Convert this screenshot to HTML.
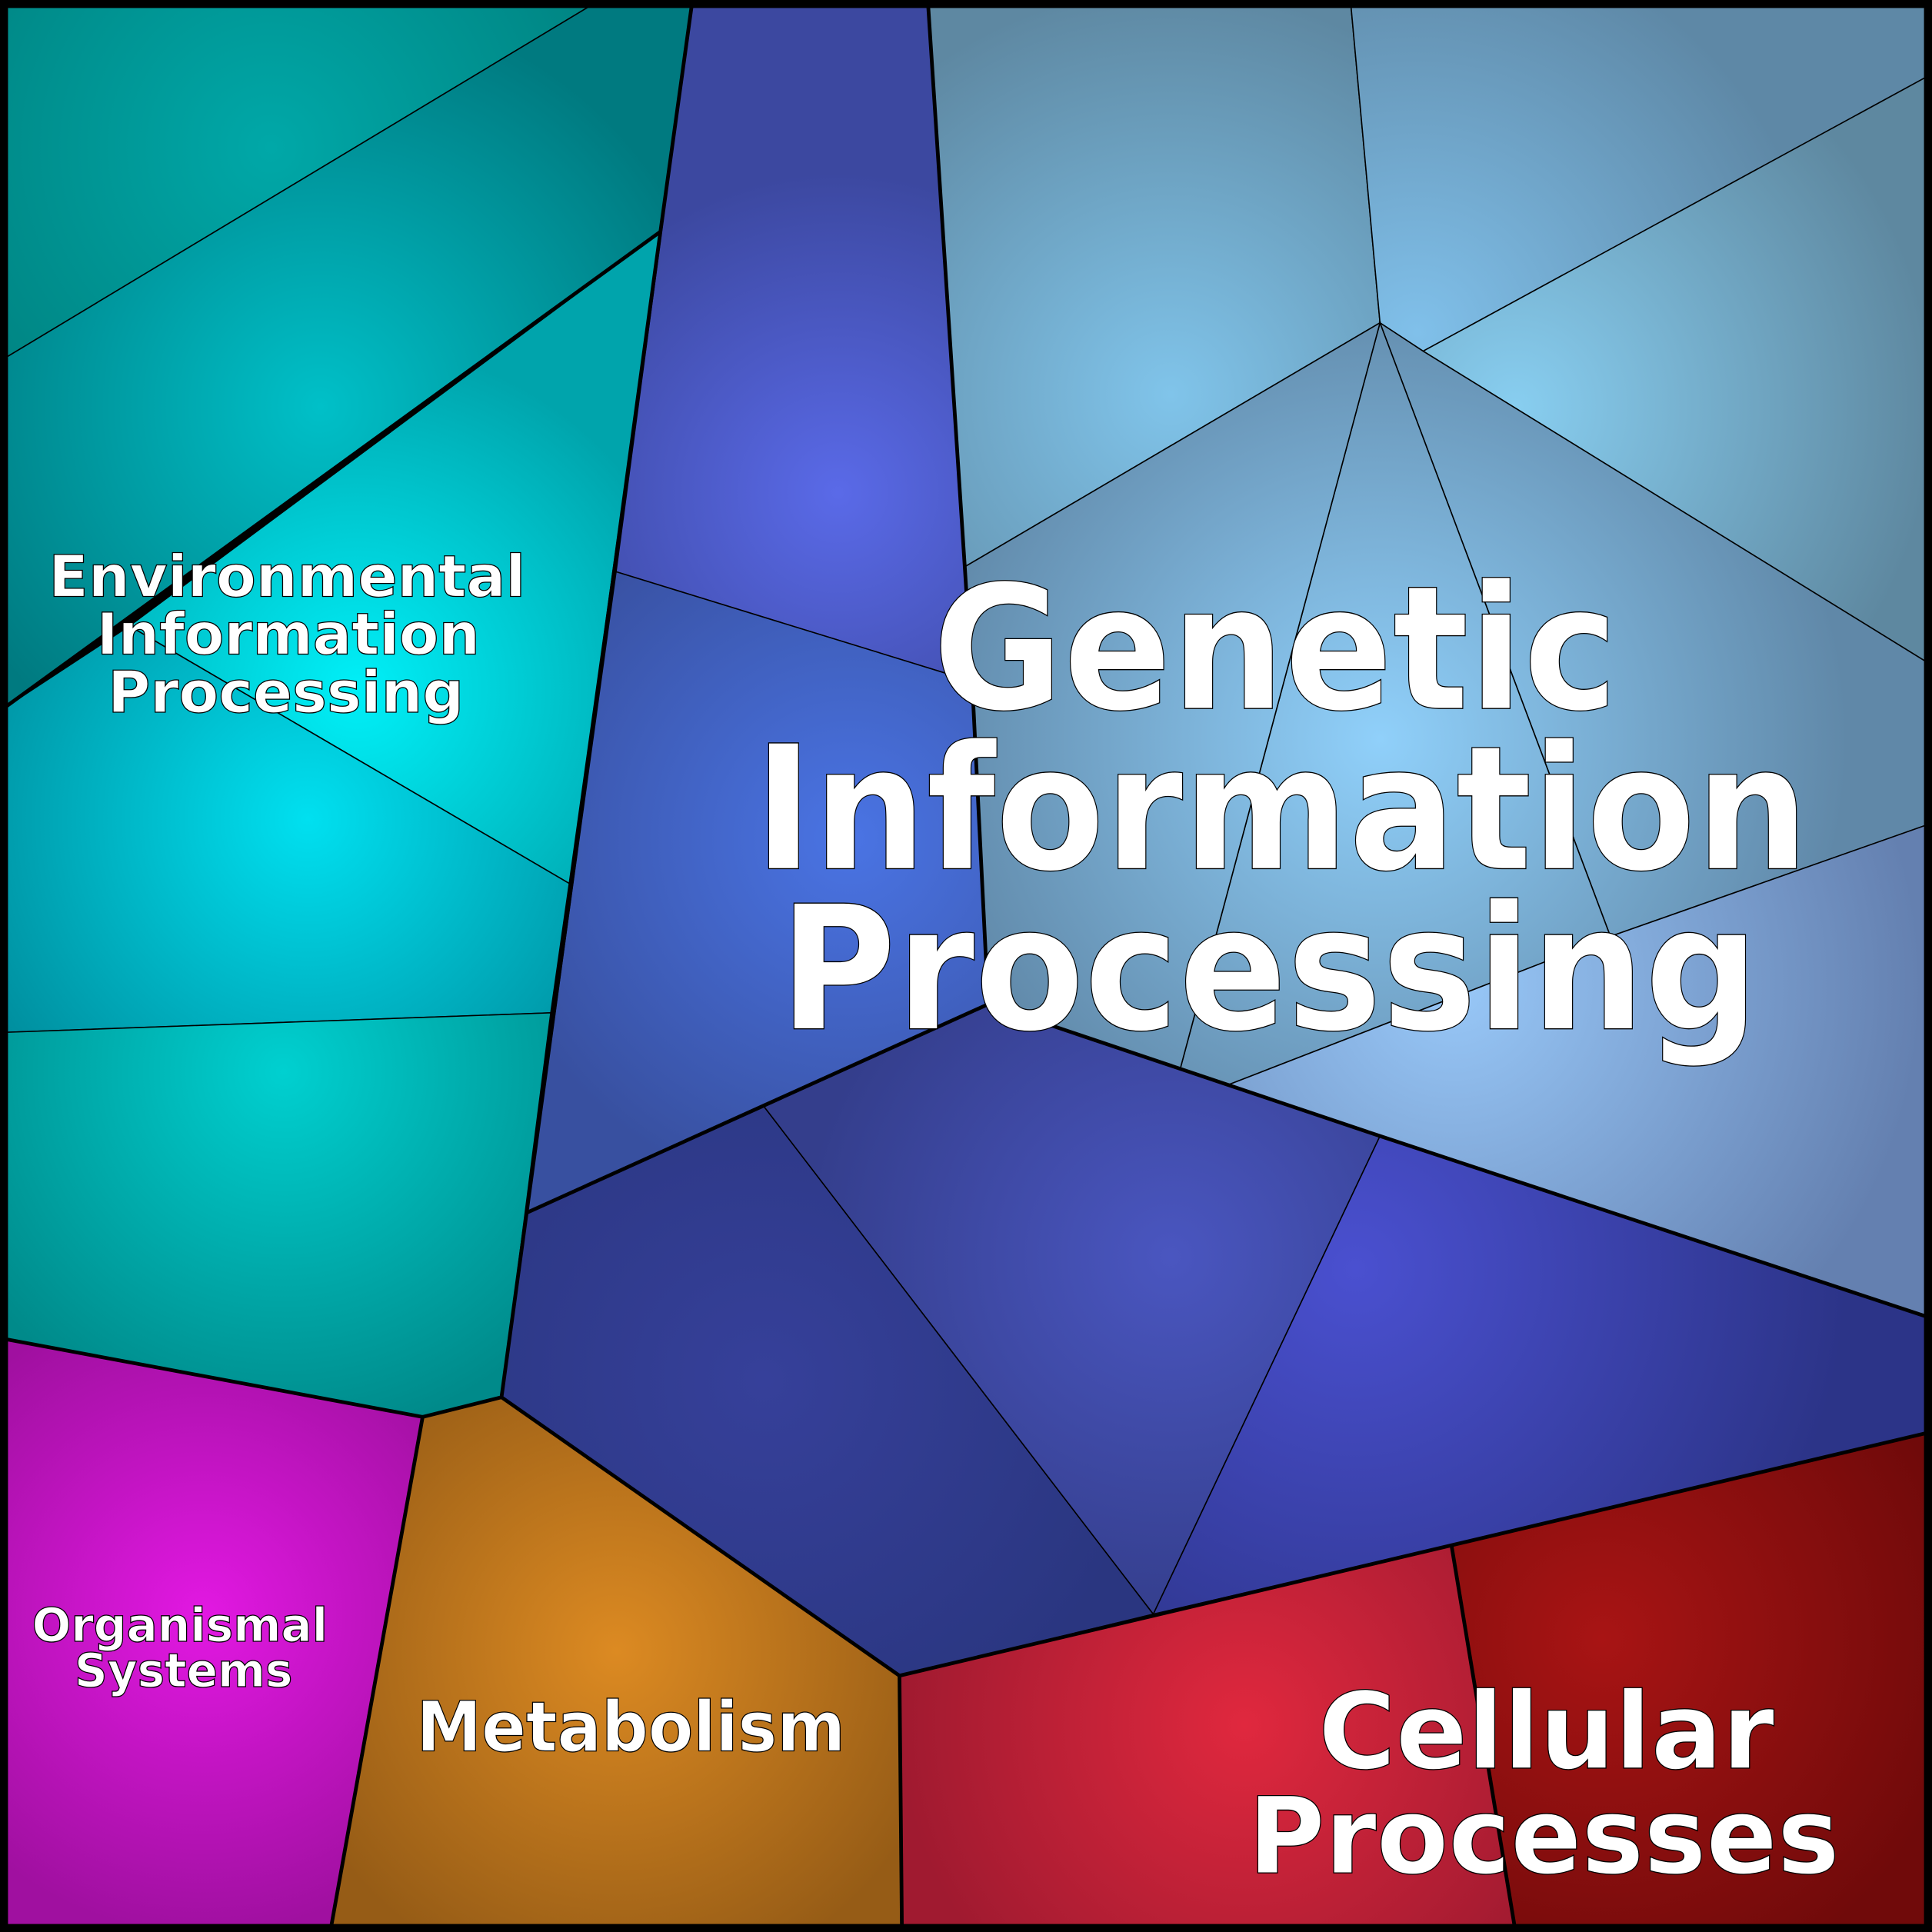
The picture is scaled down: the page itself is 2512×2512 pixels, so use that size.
<!DOCTYPE html>
<html><head><meta charset="utf-8"><style>
html,body{margin:0;padding:0;background:#000}
svg{display:block}
text{font-family:"DejaVu Sans","Liberation Sans",sans-serif;font-weight:bold;fill:#fff;stroke:#000;stroke-width:0.8;text-anchor:middle}
</style></head><body>
<svg width="2512" height="2512" viewBox="0 0 1568 1568" xmlns="http://www.w3.org/2000/svg">
<defs>
<radialGradient id="tA" gradientUnits="userSpaceOnUse" cx="220" cy="120" r="320"><stop offset="0" stop-color="#00a8a8"/><stop offset="1" stop-color="#00807e"/></radialGradient>
<radialGradient id="tB" gradientUnits="userSpaceOnUse" cx="260" cy="330" r="330"><stop offset="0" stop-color="#00c0c8"/><stop offset="1" stop-color="#007a80"/></radialGradient>
<radialGradient id="tC" gradientUnits="userSpaceOnUse" cx="290" cy="560" r="280"><stop offset="0" stop-color="#00f0f8"/><stop offset="1" stop-color="#00a4ac"/></radialGradient>
<radialGradient id="tD" gradientUnits="userSpaceOnUse" cx="250" cy="665" r="300"><stop offset="0" stop-color="#00e0f0"/><stop offset="1" stop-color="#008e9e"/></radialGradient>
<radialGradient id="tE" gradientUnits="userSpaceOnUse" cx="230" cy="870" r="300"><stop offset="0" stop-color="#00d0d0"/><stop offset="1" stop-color="#008a8a"/></radialGradient>
<radialGradient id="b1" gradientUnits="userSpaceOnUse" cx="680" cy="400" r="260"><stop offset="0" stop-color="#5a6ae8"/><stop offset="1" stop-color="#3c48a0"/></radialGradient>
<radialGradient id="b2" gradientUnits="userSpaceOnUse" cx="690" cy="680" r="300"><stop offset="0" stop-color="#4a74e4"/><stop offset="1" stop-color="#3850a0"/></radialGradient>
<radialGradient id="b3" gradientUnits="userSpaceOnUse" cx="620" cy="1120" r="320"><stop offset="0" stop-color="#36409a"/><stop offset="1" stop-color="#2a3680"/></radialGradient>
<radialGradient id="b4" gradientUnits="userSpaceOnUse" cx="950" cy="1020" r="300"><stop offset="0" stop-color="#4a56c0"/><stop offset="1" stop-color="#343e8c"/></radialGradient>
<radialGradient id="b5" gradientUnits="userSpaceOnUse" cx="1100" cy="1030" r="400"><stop offset="0" stop-color="#4a50d0"/><stop offset="1" stop-color="#2c3488"/></radialGradient>
<radialGradient id="l1" gradientUnits="userSpaceOnUse" cx="950" cy="320" r="330"><stop offset="0" stop-color="#80c4ea"/><stop offset="1" stop-color="#5e88a2"/></radialGradient>
<radialGradient id="l2" gradientUnits="userSpaceOnUse" cx="1150" cy="270" r="330"><stop offset="0" stop-color="#80c0ea"/><stop offset="1" stop-color="#5e88a6"/></radialGradient>
<radialGradient id="l3" gradientUnits="userSpaceOnUse" cx="1230" cy="330" r="340"><stop offset="0" stop-color="#88cef0"/><stop offset="1" stop-color="#5e88a0"/></radialGradient>
<radialGradient id="l4" gradientUnits="userSpaceOnUse" cx="1120" cy="600" r="380"><stop offset="0" stop-color="#90d0fa"/><stop offset="1" stop-color="#6088a8"/></radialGradient>
<radialGradient id="l5" gradientUnits="userSpaceOnUse" cx="1180" cy="800" r="380"><stop offset="0" stop-color="#98c8f8"/><stop offset="1" stop-color="#6480b0"/></radialGradient>
<radialGradient id="r1" gradientUnits="userSpaceOnUse" cx="1010" cy="1400" r="280"><stop offset="0" stop-color="#e0283e"/><stop offset="1" stop-color="#a01a30"/></radialGradient>
<radialGradient id="r2" gradientUnits="userSpaceOnUse" cx="1300" cy="1330" r="300"><stop offset="0" stop-color="#a81414"/><stop offset="1" stop-color="#700a0a"/></radialGradient>
<radialGradient id="o1" gradientUnits="userSpaceOnUse" cx="500" cy="1340" r="280"><stop offset="0" stop-color="#dc8a22"/><stop offset="1" stop-color="#965c16"/></radialGradient>
<radialGradient id="m1" gradientUnits="userSpaceOnUse" cx="165" cy="1310" r="260"><stop offset="0" stop-color="#e218e2"/><stop offset="1" stop-color="#a010a0"/></radialGradient>
</defs>
<g stroke="#000" stroke-width="1">
<polygon points="0,0 487,0 0,293" fill="url(#tA)"/>
<polygon points="487,0 562,0 536,188 0,577 0,293" fill="url(#tB)"/>
<polygon points="536,188 462,717 105,508" fill="url(#tC)"/>
<polygon points="0,577 105,508 462,717 447,822 0,838" fill="url(#tD)"/>
<polygon points="0,838 447,822 407,1134 343,1150 0,1086" fill="url(#tE)"/>
<polygon points="562,0 753,0 783,460 789,553 500,464" fill="url(#b1)"/>
<polygon points="500,464 789,553 802,815 428,984" fill="url(#b2)"/>
<polygon points="428,984 620,898 936,1310 730,1360 407,1134" fill="url(#b3)"/>
<polygon points="620,898 802,815 1120,922 936,1310" fill="url(#b4)"/>
<polygon points="1120,922 1568,1070 1568,1162 1178,1254 936,1310" fill="url(#b5)"/>
<polygon points="753,0 1096,0 1120,262 783,460" fill="url(#l1)"/>
<polygon points="1096,0 1568,0 1568,60 1155,285 1120,262" fill="url(#l2)"/>
<polygon points="1155,285 1568,60 1568,540" fill="url(#l3)"/>
<polygon points="1120,262 1155,285 1568,540 1568,668 1307,760" fill="url(#l4)"/>
<polygon points="1120,262 1307,760 998,880 958,867" fill="url(#l4)"/>
<polygon points="783,460 1120,262 958,867 802,815 789,553" fill="url(#l4)"/>
<polygon points="998,880 1307,760 1568,668 1568,1070 1120,922" fill="url(#l5)"/>
<polygon points="730,1360 1178,1254 1230,1568 732,1568" fill="url(#r1)"/>
<polygon points="1178,1254 1568,1162 1568,1568 1230,1568" fill="url(#r2)"/>
<polygon points="343,1150 407,1134 730,1360 732,1568 268,1568" fill="url(#o1)"/>
<polygon points="0,1086 343,1150 268,1568 0,1568" fill="url(#m1)"/>
</g>
<g fill="none" stroke="#000" stroke-width="3">
<polyline points="562,0 536,188 407,1134 343,1150 0,1086"/>
<polyline points="536,188 0,577"/>
<polyline points="753,0 783,460 789,553 802,815 1120,922 1568,1070"/>
<polyline points="802,815 428,984"/>
<polyline points="407,1134 730,1360 1568,1162"/>
<polyline points="730,1360 732,1568"/>
<polyline points="343,1150 268,1568"/>
<polyline points="1178,1254 1230,1568"/>
</g>
<rect x="3" y="3" width="1562" height="1562" fill="none" stroke="#000" stroke-width="7"/>
<text x="1035" y="575" font-size="140" textLength="556" lengthAdjust="spacingAndGlyphs">Genetic</text>
<text x="1040" y="705" font-size="140" textLength="856" lengthAdjust="spacingAndGlyphs">Information</text>
<text x="1030" y="835" font-size="140" textLength="795" lengthAdjust="spacingAndGlyphs">Processing</text>
<text x="233" y="484" font-size="47" textLength="387" lengthAdjust="spacingAndGlyphs">Environmental</text>
<text x="234" y="531" font-size="47" textLength="311" lengthAdjust="spacingAndGlyphs">Information</text>
<text x="232" y="578" font-size="47" textLength="289" lengthAdjust="spacingAndGlyphs">Processing</text>
<text x="146" y="1332" font-size="38" textLength="240" lengthAdjust="spacingAndGlyphs">Organismal</text>
<text x="149" y="1369" font-size="38" textLength="177" lengthAdjust="spacingAndGlyphs">Systems</text>
<text x="512" y="1421" font-size="56" textLength="348" lengthAdjust="spacingAndGlyphs">Metabolism</text>
<text x="1255" y="1435" font-size="86" textLength="370" lengthAdjust="spacingAndGlyphs">Cellular</text>
<text x="1253" y="1520" font-size="86" textLength="480" lengthAdjust="spacingAndGlyphs">Processes</text>
</svg>
</body></html>
